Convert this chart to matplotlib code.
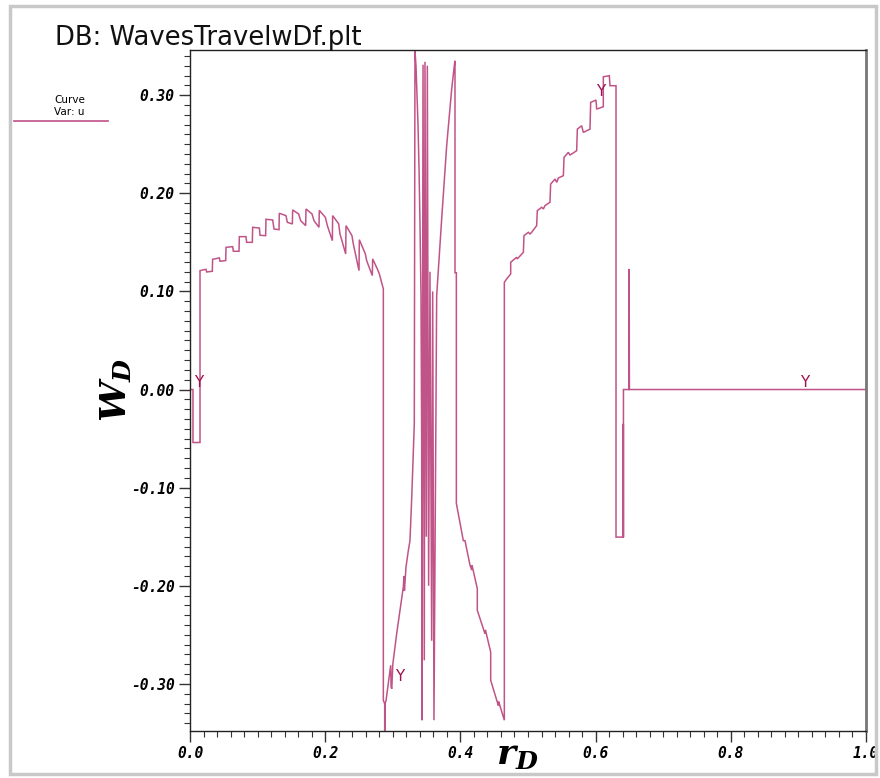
import matplotlib
matplotlib.use("Agg")
import matplotlib.pyplot as plt
from matplotlib.ticker import MultipleLocator, FormatStrFormatter
from matplotlib.patches import Rectangle
import numpy as np

# ---------------- data ----------------
r_start = [0.0, 0.0044, 0.0044, 0.0148]
w_start = [0.0, 0.0, -0.054, -0.054]

r_arch = [0.0148, 0.0237, 0.0247, 0.0330, 0.0335, 0.0434, 0.0444, 0.0528, 0.0533, 0.0631,
          0.0641, 0.0725, 0.0730, 0.0828, 0.0838, 0.0922, 0.0927, 0.1026, 0.1036, 0.1119,
          0.1124, 0.1223, 0.1243, 0.1317, 0.1321, 0.1420, 0.1440, 0.1514, 0.1519, 0.1607,
          0.1637, 0.1711, 0.1716, 0.1805, 0.1834, 0.1908, 0.1913, 0.2002, 0.2032, 0.2106,
          0.2110, 0.2199, 0.2219, 0.2303, 0.2308, 0.2396, 0.2416, 0.2500, 0.2505, 0.2594,
          0.2613, 0.2697, 0.2702, 0.2771, 0.2801, 0.2860]
w_arch = [0.1212, 0.1225, 0.1198, 0.1205, 0.1327, 0.1341, 0.1307, 0.1314, 0.1449, 0.1456,
          0.1409, 0.1409, 0.1558, 0.1558, 0.1500, 0.1500, 0.1653, 0.1646, 0.1572, 0.1568,
          0.1735, 0.1728, 0.1636, 0.1629, 0.1796, 0.1772, 0.1704, 0.1687, 0.1830, 0.1789,
          0.1721, 0.1670, 0.1840, 0.1789, 0.1721, 0.1653, 0.1826, 0.1755, 0.1670, 0.1517,
          0.1772, 0.1689, 0.1585, 0.1382, 0.1670, 0.1568, 0.1483, 0.1212, 0.1527, 0.1382,
          0.1314, 0.1161, 0.1331, 0.1229, 0.1178, 0.1025]

r_rise = [0.2860, 0.2880, 0.2880, 0.2885, 0.2900, 0.2969, 0.2975, 0.2985, 0.3000, 0.3057,
          0.3107, 0.3156, 0.3165, 0.3172, 0.3195, 0.3230, 0.3254, 0.3280, 0.3303, 0.3318, 0.3328]
w_rise = [-0.317, -0.320, -0.350, -0.320, -0.317, -0.281, -0.303, -0.305, -0.280, -0.249,
          -0.225, -0.201, -0.190, -0.205, -0.181, -0.164, -0.154, -0.110, -0.066, -0.035, 0.345]

r_core = [0.3343, 0.3358, 0.3373, 0.3388, 0.3402, 0.3417, 0.3427, 0.3432, 0.3447, 0.3466,
          0.3476, 0.3496, 0.3511, 0.3530, 0.3550, 0.3575, 0.3590, 0.3609, 0.3649]
w_core = [0.330, 0.300, 0.270, 0.225, 0.170, 0.096, -0.050, -0.337, 0.331, -0.276,
          0.334, -0.150, 0.330, -0.200, 0.120, -0.256, 0.100, -0.337, 0.0957]

r_ramp = [0.3723, 0.3797, 0.3871, 0.3910, 0.3920, 0.3920, 0.3940, 0.3940, 0.4043]
w_ramp = [0.1738, 0.2485, 0.3062, 0.3300, 0.3350, 0.1190, 0.1190, -0.116, -0.154]

r_fall = [0.4068, 0.4142, 0.4167, 0.4172, 0.4250, 0.4250, 0.4339, 0.4364, 0.4370, 0.4448,
          0.4448, 0.4537, 0.4561, 0.4566, 0.4650]
w_fall = [-0.154, -0.179, -0.184, -0.179, -0.203, -0.225, -0.2437, -0.249, -0.245, -0.2675,
          -0.2963, -0.3167, -0.322, -0.318, -0.337]

r_steps = [0.4650, 0.4685, 0.4744, 0.4744, 0.4783, 0.4832, 0.4842, 0.4931, 0.4941, 0.5005,
           0.5030, 0.5054, 0.5128, 0.5138, 0.5202, 0.5227, 0.5251, 0.5325, 0.5335, 0.5400,
           0.5425, 0.5449, 0.5523, 0.5533, 0.5597, 0.5622, 0.5646, 0.5720, 0.5730, 0.5794,
           0.5818, 0.5917, 0.5927, 0.6006, 0.6016, 0.6114, 0.6114, 0.6203, 0.6213, 0.6302]
w_steps = [0.1093, 0.1127, 0.1178, 0.1297, 0.1320, 0.1348, 0.1331, 0.1398, 0.1568, 0.1602,
           0.1585, 0.1602, 0.1670, 0.1823, 0.1857, 0.1840, 0.1874, 0.1908, 0.2094, 0.2145,
           0.2111, 0.2156, 0.2179, 0.2366, 0.2417, 0.2390, 0.2400, 0.2434, 0.2654, 0.2688,
           0.2620, 0.2654, 0.2926, 0.2950, 0.2858, 0.2882, 0.3187, 0.3198, 0.3096, 0.3096]

r_tail = [0.6302, 0.6410, 0.6410, 0.6411, 0.6412, 0.6494, 0.6494, 0.6496, 0.6498, 0.6500, 1.0]
w_tail = [-0.1504, -0.1504, -0.035, -0.1504, 0.0, 0.0, 0.1229, 0.0, 0.073, 0.0, 0.0]

r_marks = [0.0133, 0.3107, 0.6080, 0.9100]
w_marks = [0.0, -0.300, 0.296, 0.0]

x_ticks = [0.0, 0.2, 0.4, 0.6, 0.8, 1.0]
y_ticks = [-0.30, -0.20, -0.10, 0.00, 0.10, 0.20, 0.30]

title_text = "DB: WavesTravelwDf.plt"
legend_lines = ["Curve", "Var: u"]

# ---------------- figure ----------------
r = np.concatenate([r_start, r_arch, r_rise, r_core, r_ramp, r_fall, r_steps, r_tail])
w = np.concatenate([w_start, w_arch, w_rise, w_core, w_ramp, w_fall, w_steps, w_tail])

plt.rcParams['mathtext.fontset'] = 'dejavuserif'
fig = plt.figure(figsize=(8.8, 7.78), dpi=100)
fig.patch.set_facecolor('white')
fig.patches.append(Rectangle((10/880, 4/778), 866/880, 768/778, transform=fig.transFigure,
                             fill=False, edgecolor='#c8c8c8', linewidth=2.5))

ax = fig.add_axes([190/880, 47/778, 676/880, 681/778])
line_color = '#a8125a'
ax.plot(r, w, color=line_color, lw=1.1, alpha=0.72, solid_joinstyle='miter')
for xm, ym in zip(r_marks, w_marks):
    ax.text(xm, ym, "Y", color='#a0104e', fontsize=11, ha='center', va='bottom',
            family='DejaVu Sans')

ax.set_xlim(0.0, 1.0)
ax.set_ylim(-0.348, 0.346)
ax.xaxis.set_major_locator(MultipleLocator(0.2))
ax.xaxis.set_minor_locator(MultipleLocator(0.02))
ax.yaxis.set_major_locator(MultipleLocator(0.1))
ax.yaxis.set_minor_locator(MultipleLocator(0.01))
ax.set_xticks(x_ticks)
ax.set_yticks(y_ticks)
ax.xaxis.set_major_formatter(FormatStrFormatter('%.1f'))
ax.yaxis.set_major_formatter(FormatStrFormatter('%.2f'))
ax.tick_params(which='major', direction='out', length=8, width=1, color='#333333', pad=3)
ax.tick_params(which='minor', direction='out', length=4, width=0.8, color='#333333')
for lab in ax.get_xticklabels() + ax.get_yticklabels():
    lab.set_family('DejaVu Sans Mono')
    lab.set_weight('bold')
    lab.set_style('italic')
    lab.set_fontsize(10.5)
for sp in ax.spines.values():
    sp.set_color('#222222')
    sp.set_linewidth(1.0)
ax.spines['right'].set_color('#777777')
ax.spines['right'].set_linewidth(2)

fig.text(116/880, 1 - 390/778, r'$\mathbfit{W}_{\mathbfit{D}}$', fontsize=26, rotation=90,
         ha='center', va='center')
fig.text(518/880, 1 - 755/778, r'$\mathbfit{r}_{\mathbfit{D}}$', fontsize=26,
         ha='center', va='center')

fig.text(55/880, 1 - 38/778, title_text, fontsize=18.6, ha='left', va='center',
         family='DejaVu Sans', color='#111111')
fig.text(54/880, 1 - 100/778, legend_lines[0], fontsize=7.5, ha='left', va='center')
fig.text(54/880, 1 - 112/778, legend_lines[1], fontsize=7.5, ha='left', va='center')
fig.lines.append(plt.Line2D([14/880, 108/880], [1 - 121/778, 1 - 121/778],
                            transform=fig.transFigure, color='#c0508a', lw=1.2))

fig.savefig('out.png', dpi=100)
